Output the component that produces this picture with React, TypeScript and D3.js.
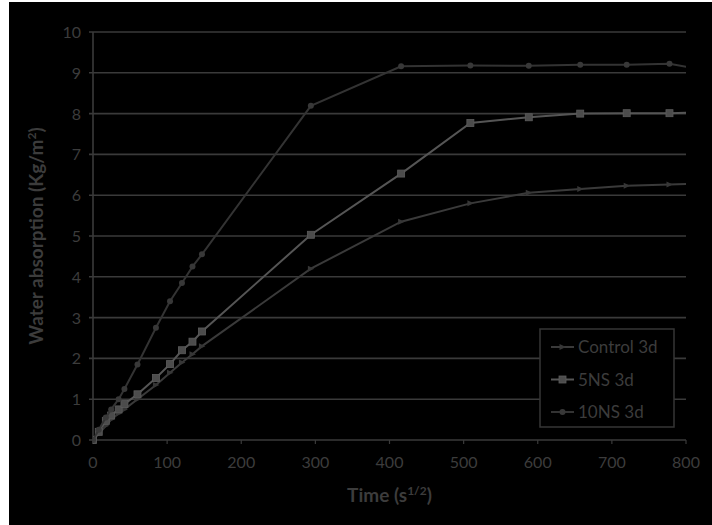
import React from "react";
import * as d3 from "d3";

const times = [0, 7.75, 17.3, 24.5, 34.6, 42.4, 60, 84.9, 103.9, 120, 134.2, 147, 293.9, 415.7, 509.1, 587.9, 657.3, 720, 777.7, 831.4];
const control3d = [0, 0.15, 0.35, 0.5, 0.65, 0.75, 1.0, 1.35, 1.65, 1.9, 2.1, 2.3, 4.2, 5.35, 5.8, 6.06, 6.15, 6.23, 6.26, 6.3];
const ns5_3d = [0, 0.2, 0.47, 0.6, 0.75, 0.88, 1.12, 1.52, 1.86, 2.2, 2.41, 2.66, 5.03, 6.53, 7.77, 7.91, 8.0, 8.01, 8.01, 8.03];
const ns10_3d = [0, 0.25, 0.55, 0.75, 1.0, 1.25, 1.85, 2.75, 3.4, 3.85, 4.25, 4.55, 8.19, 9.16, 9.18, 9.17, 9.2, 9.2, 9.22, 9.05];
const seriesNames = ["Control 3d", "5NS 3d", "10NS 3d"];
const xTicks = [0, 100, 200, 300, 400, 500, 600, 700, 800];
const yTicks = [0, 1, 2, 3, 4, 5, 6, 7, 8, 9, 10];

const W = 712, H = 525;
const L = 93, R = 686, T = 32, B = 440;
const font = "Lato, 'Open Sans', sans-serif";
const textCol = "#3c3c3c";
const gridCol = "#3a3a3a";

export default function App() {
  const x = d3.scaleLinear().domain([0, 800]).range([L, R]);
  const y = d3.scaleLinear().domain([0, 10]).range([B, T]);
  const line = d3.line<[number, number]>().x(d => x(d[0])).y(d => y(d[1]));
  const series = [
    { name: seriesNames[0], vals: control3d, color: "#3a3a3a", marker: "tri", mcol: "#363636" },
    { name: seriesNames[1], vals: ns5_3d, color: "#555555", marker: "sq", mcol: "#4c4c4c" },
    { name: seriesNames[2], vals: ns10_3d, color: "#333333", marker: "circ", mcol: "#383838" },
  ];
  const drawMarker = (kind: string, cx: number, cy: number, col: string, key: string | number) => {
    if (kind === "sq") return <rect key={key} x={cx - 3.5} y={cy - 3.5} width={7} height={7} fill={col} stroke="#5c5c5c" strokeWidth={0.8} />;
    if (kind === "tri") return <path key={key} d={`M${cx - 3},${cy - 3}L${cx + 3.5},${cy}L${cx - 3},${cy + 3}Z`} fill={col} />;
    return <circle key={key} cx={cx} cy={cy} r={3} fill={col} />;
  };
  const legX = 540, legY = 329, legW = 134, legH = 98;
  return (
    <svg width={W} height={H} style={{ position: "absolute", left: 0, top: 0 }}>
      <rect x={0} y={0} width={W} height={H} fill="#ffffff" />
      <rect x={9} y={2} width={W - 9} height={H - 2} fill="#000000" />
      <defs>
        <clipPath id="plot"><rect x={L} y={T - 5} width={R - L} height={B - T + 10} /></clipPath>
      </defs>
      {yTicks.map(t => (
        <g key={"y" + t}>
          <line x1={L - 4} x2={R} y1={y(t)} y2={y(t)} stroke={gridCol} strokeWidth={1.6} />
          <text x={L - 12} y={y(t) + 6} textAnchor="end" fontFamily={font} fontSize={16} fill={textCol}>{t}</text>
        </g>
      ))}
      <line x1={L} x2={L} y1={T} y2={B + 4} stroke={gridCol} strokeWidth={1.6} />
      {xTicks.map(t => (
        <g key={"x" + t}>
          <line x1={x(t)} x2={x(t)} y1={B} y2={B + 4} stroke={gridCol} strokeWidth={1.2} />
          <text x={x(t)} y={B + 28} textAnchor="middle" fontFamily={font} fontSize={16} fill={textCol}>{t}</text>
        </g>
      ))}
      <g clipPath="url(#plot)">
        {series.map(s => {
          const pts = times.map((t, i) => [t, s.vals[i]] as [number, number]);
          return (
            <g key={s.name}>
              <path d={line(pts) || ""} fill="none" stroke={s.color} strokeWidth={2} />
              {pts.filter(p => p[0] <= 800).map((p, i) => drawMarker(s.marker, x(p[0]), y(p[1]), s.mcol, i))}
            </g>
          );
        })}
      </g>
      <text x={(L + R) / 2} y={502} textAnchor="middle" fontFamily={font} fontSize={19} fontWeight="bold" fill={textCol}>
        Time (s<tspan dy={-7} fontSize={12}>1/2</tspan><tspan dy={7}>)</tspan>
      </text>
      <text transform={`translate(43,${(T + B) / 2}) rotate(-90)`} textAnchor="middle" fontFamily={font} fontSize={19} fontWeight="bold" fill={textCol}>
        Water absorption (Kg/m<tspan dy={-7} fontSize={12}>2</tspan><tspan dy={7}>)</tspan>
      </text>
      <rect x={legX} y={legY} width={legW} height={legH} fill="#000000" stroke="#363636" strokeWidth={1.5} />
      {series.map((s, i) => {
        const ly = legY + 18 + i * 32.5;
        return (
          <g key={"leg" + i}>
            <line x1={legX + 11} x2={legX + 34} y1={ly} y2={ly} stroke={s.color} strokeWidth={2} />
            {drawMarker(s.marker, legX + 22.5, ly, s.mcol, "m" + i)}
            <text x={legX + 38} y={ly + 6} fontFamily={font} fontSize={17} fill={textCol}>{s.name}</text>
          </g>
        );
      })}
    </svg>
  );
}
